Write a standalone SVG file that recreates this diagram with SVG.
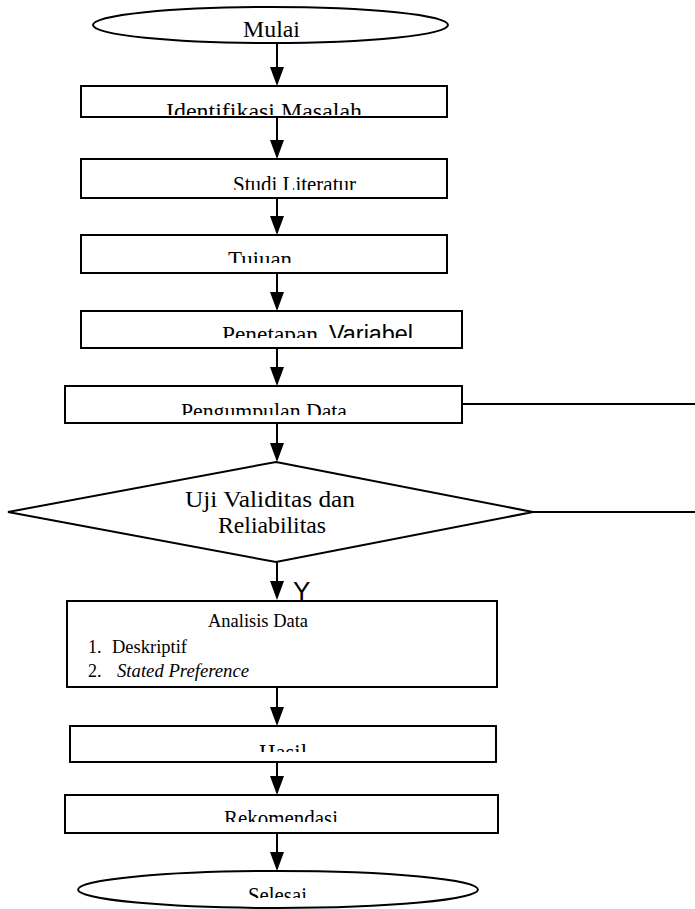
<svg xmlns="http://www.w3.org/2000/svg" width="695" height="909" viewBox="0 0 695 909">
<style>
.shape{fill:#fff;stroke:#000;stroke-width:2}
.conn{fill:none;stroke:#000;stroke-width:2}
.t{font-family:"Liberation Serif","Times New Roman",serif;font-size:23px;fill:#000}
.s{font-family:"Liberation Sans",Arial,sans-serif;fill:#000}
.small{font-family:"Liberation Serif","Times New Roman",serif;font-size:18px;fill:#000}
</style>
<defs>
<marker id="ah" markerUnits="userSpaceOnUse" markerWidth="19" markerHeight="14" refX="14" refY="7" orient="auto">
<path d="M0,0 L19,7 L0,14 Z" fill="#000"/>
</marker>
<clipPath id="c1"><rect x="81" y="86" width="366" height="29"/></clipPath>
<clipPath id="c2"><rect x="81" y="159" width="366" height="31"/></clipPath>
<clipPath id="c3"><rect x="81" y="235" width="366" height="28"/></clipPath>
<clipPath id="c4"><rect x="81" y="311" width="381" height="27"/></clipPath>
<clipPath id="c5"><rect x="65" y="386" width="397" height="29"/></clipPath>
<clipPath id="c6"><rect x="70" y="726" width="426" height="26"/></clipPath>
<clipPath id="c7"><rect x="65" y="795" width="433" height="27"/></clipPath>
<clipPath id="c8"><rect x="78" y="871" width="400" height="27"/></clipPath>
</defs>

<g id="connectors">
<line class="conn" x1="277" y1="43" x2="277" y2="81" marker-end="url(#ah)"/>
<line class="conn" x1="277" y1="117" x2="277" y2="154" marker-end="url(#ah)"/>
<line class="conn" x1="277" y1="198" x2="277" y2="230" marker-end="url(#ah)"/>
<line class="conn" x1="277" y1="273" x2="277" y2="306" marker-end="url(#ah)"/>
<line class="conn" x1="277" y1="348" x2="277" y2="381" marker-end="url(#ah)"/>
<line class="conn" x1="277" y1="423" x2="277" y2="457" marker-end="url(#ah)"/>
<line class="conn" x1="277" y1="562" x2="277" y2="595" marker-end="url(#ah)"/>
<line class="conn" x1="277" y1="687" x2="277" y2="721" marker-end="url(#ah)"/>
<line class="conn" x1="277" y1="758" x2="277" y2="790" marker-end="url(#ah)"/>
<line class="conn" x1="277" y1="833" x2="277" y2="866" marker-end="url(#ah)"/>
<line class="conn" x1="462" y1="404" x2="695" y2="404"/>
<line class="conn" x1="533" y1="512" x2="695" y2="512"/>
<text class="s" x="293" y="600" font-size="26">Y</text>
</g>

<g id="mulai">
<ellipse class="shape" cx="270.5" cy="25" rx="177.5" ry="18"/>
<text class="t" x="243" y="37" textLength="57" lengthAdjust="spacingAndGlyphs">Mulai</text>
</g>

<g id="identifikasi">
<rect class="shape" x="81" y="86" width="366" height="31"/>
<text class="t" x="166" y="118.5" textLength="196" lengthAdjust="spacingAndGlyphs" clip-path="url(#c1)">Identifikasi Masalah</text>
</g>

<g id="studi">
<rect class="shape" x="81" y="159" width="366" height="39"/>
<text class="t" x="233" y="192" font-size="22" textLength="123" lengthAdjust="spacingAndGlyphs" clip-path="url(#c2)">Studi Literatur</text>
</g>

<g id="tujuan">
<rect class="shape" x="81" y="235" width="366" height="38"/>
<text class="t" x="228" y="267" textLength="64" lengthAdjust="spacingAndGlyphs" clip-path="url(#c3)">Tujuan</text>
</g>

<g id="penetapan">
<rect class="shape" x="81" y="311" width="381" height="37"/>
<g clip-path="url(#c4)">
<text class="t" x="222" y="342" textLength="96" lengthAdjust="spacingAndGlyphs">Penetapan</text>
<text class="s" x="329" y="342" font-size="23" textLength="84" lengthAdjust="spacingAndGlyphs">Variabel</text>
</g>
</g>

<g id="pengumpulan">
<rect class="shape" x="65" y="386" width="397" height="37"/>
<text class="t" x="181" y="419" font-size="22" textLength="166" lengthAdjust="spacingAndGlyphs" clip-path="url(#c5)">Pengumpulan  Data</text>
</g>

<g id="uji">
<polygon class="shape" points="276,462 533,512 276,562 8,512"/>
<text class="t" x="185" y="507" textLength="170" lengthAdjust="spacingAndGlyphs">Uji Validitas  dan</text>
<text class="t" x="218" y="533" textLength="108" lengthAdjust="spacingAndGlyphs">Reliabilitas</text>
</g>

<g id="analisis">
<rect class="shape" x="67" y="601" width="430" height="86"/>
<text class="small" x="208" y="627" textLength="100" lengthAdjust="spacingAndGlyphs">Analisis Data</text>
<text class="small" x="88" y="653">1.</text>
<text class="small" x="112" y="653" textLength="75" lengthAdjust="spacingAndGlyphs">Deskriptif</text>
<text class="small" x="88" y="677">2.</text>
<text class="small" x="117" y="677" font-style="italic" textLength="132" lengthAdjust="spacingAndGlyphs">Stated Preference</text>
</g>

<g id="hasil">
<rect class="shape" x="70" y="726" width="426" height="36"/>
<text class="t" x="259" y="760" textLength="48" lengthAdjust="spacingAndGlyphs" clip-path="url(#c6)">Hasil</text>
</g>

<g id="rekomendasi">
<rect class="shape" x="65" y="795" width="433" height="38"/>
<text class="t" x="224" y="826" font-size="22" textLength="114" lengthAdjust="spacingAndGlyphs" clip-path="url(#c7)">Rekomendasi</text>
</g>

<g id="selesai">
<ellipse class="shape" cx="278" cy="889.5" rx="200" ry="18.5"/>
<text class="t" x="248" y="903" font-size="22" textLength="59" lengthAdjust="spacingAndGlyphs" clip-path="url(#c8)">Selesai</text>
</g>
</svg>
